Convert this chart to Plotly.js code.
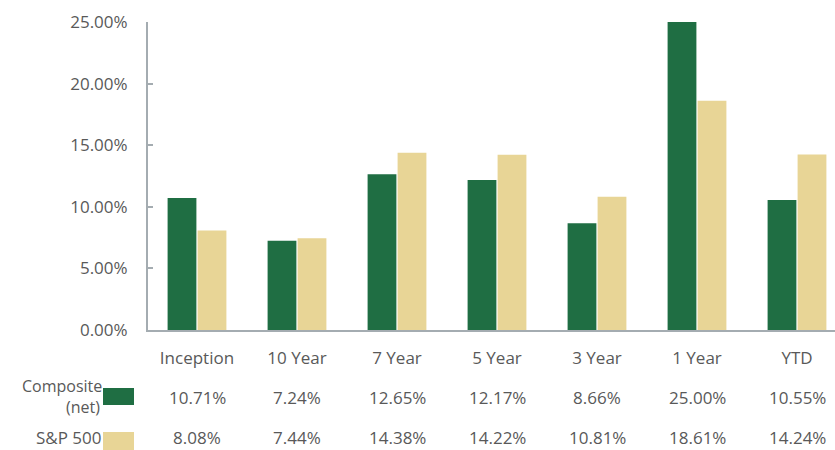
<!DOCTYPE html>
<html><head><meta charset="utf-8">
<script src="https://cdn.plot.ly/plotly-3.0.1.min.js"></script>
<style>html,body{margin:0;padding:0;background:#fff}#c{width:835px;height:450px}</style>
</head><body><div id="c"></div>
<script>
const categories = ["Inception","10 Year","7 Year","5 Year","3 Year","1 Year","YTD"];
const composite = [10.71, 7.24, 12.65, 12.17, 8.66, 25.00, 10.55];
const sp500 = [8.08, 7.44, 14.38, 14.22, 10.81, 18.61, 14.24];
const seriesNames = ["Composite (net)", "S&P 500"];

const W = 835, H = 450, L = 148, R = 0, T = 22, B = 120;
const green = "#1f6e43", tan = "#e8d596", txt = "#595959", axc = "#a4acb1";
const FONT = "Open Sans";
const pw = W - L - R, ph = H - T - B;
const px2x = p => (p - L) / pw;
const py2y = p => (H - B - p) / ph;

const fmt = v => v.toFixed(2) + "%";
const ann = [];
const tf = {family: FONT, size: 17, color: txt};
const tf16 = {family: FONT, size: 16, color: txt};
categories.forEach((c, i) => {
  ann.push({x: i, xref: "x", y: py2y(397), yref: "paper", text: fmt(composite[i]), showarrow: false,
    xanchor: "center", yanchor: "middle", font: tf});
  ann.push({x: i, xref: "x", y: py2y(437.5), yref: "paper", text: fmt(sp500[i]), showarrow: false,
    xanchor: "center", yanchor: "middle", font: tf});
});
ann.push({x: px2x(103), xref: "paper", y: py2y(385.5), yref: "paper", text: "Composite", showarrow: false,
  xanchor: "right", yanchor: "middle", font: tf16});
ann.push({x: px2x(101), xref: "paper", y: py2y(407), yref: "paper", text: "(net)", showarrow: false,
  xanchor: "right", yanchor: "middle", font: tf16});
ann.push({x: px2x(103), xref: "paper", y: py2y(437.5), yref: "paper", text: "S&amp;P 500", showarrow: false,
  xanchor: "right", yanchor: "middle", font: tf});
ann.forEach(a => { a.borderpad = 0; });

const shapes = [
  {type: "rect", xref: "paper", yref: "paper", x0: px2x(103), x1: px2x(134), y0: py2y(405), y1: py2y(388),
   fillcolor: green, line: {width: 0}},
  {type: "rect", xref: "paper", yref: "paper", x0: px2x(103), x1: px2x(134), y0: py2y(450), y1: py2y(432),
   fillcolor: tan, line: {width: 0}}
];

const xi = categories.map((c, i) => i);
const data = [
  {type: "bar", x: xi, y: composite, name: seriesNames[0], marker: {color: green}, hoverinfo: "skip"},
  {type: "bar", x: xi, y: sp500, name: seriesNames[1], marker: {color: tan}, hoverinfo: "skip"}
];
const layout = {
  width: W, height: H, margin: {l: L, r: R, t: T, b: B},
  paper_bgcolor: "#fff", plot_bgcolor: "#fff",
  showlegend: false, barmode: "group", bargap: 0.4, bargroupgap: 0.04,
  font: tf,
  xaxis: {range: [-0.49, -0.49 + pw / 100], tickvals: xi, ticktext: categories, showline: true,
    linecolor: axc, linewidth: 2, ticks: "", showgrid: false, zeroline: false, fixedrange: true,
    ticklabelstandoff: 12, tickfont: tf},
  yaxis: {range: [0, 25], dtick: 5, tick0: 0, tickformat: ".2f", ticksuffix: "%", showline: true,
    linecolor: axc, linewidth: 2, ticks: "inside", ticklen: 5, tickwidth: 2, tickcolor: axc,
    showgrid: false, zeroline: false, fixedrange: true, ticklabelstandoff: 15,
    tickfont: tf},
  annotations: ann, shapes: shapes
};
Plotly.newPlot("c", data, layout, {displayModeBar: false, staticPlot: true});
</script></body></html>
